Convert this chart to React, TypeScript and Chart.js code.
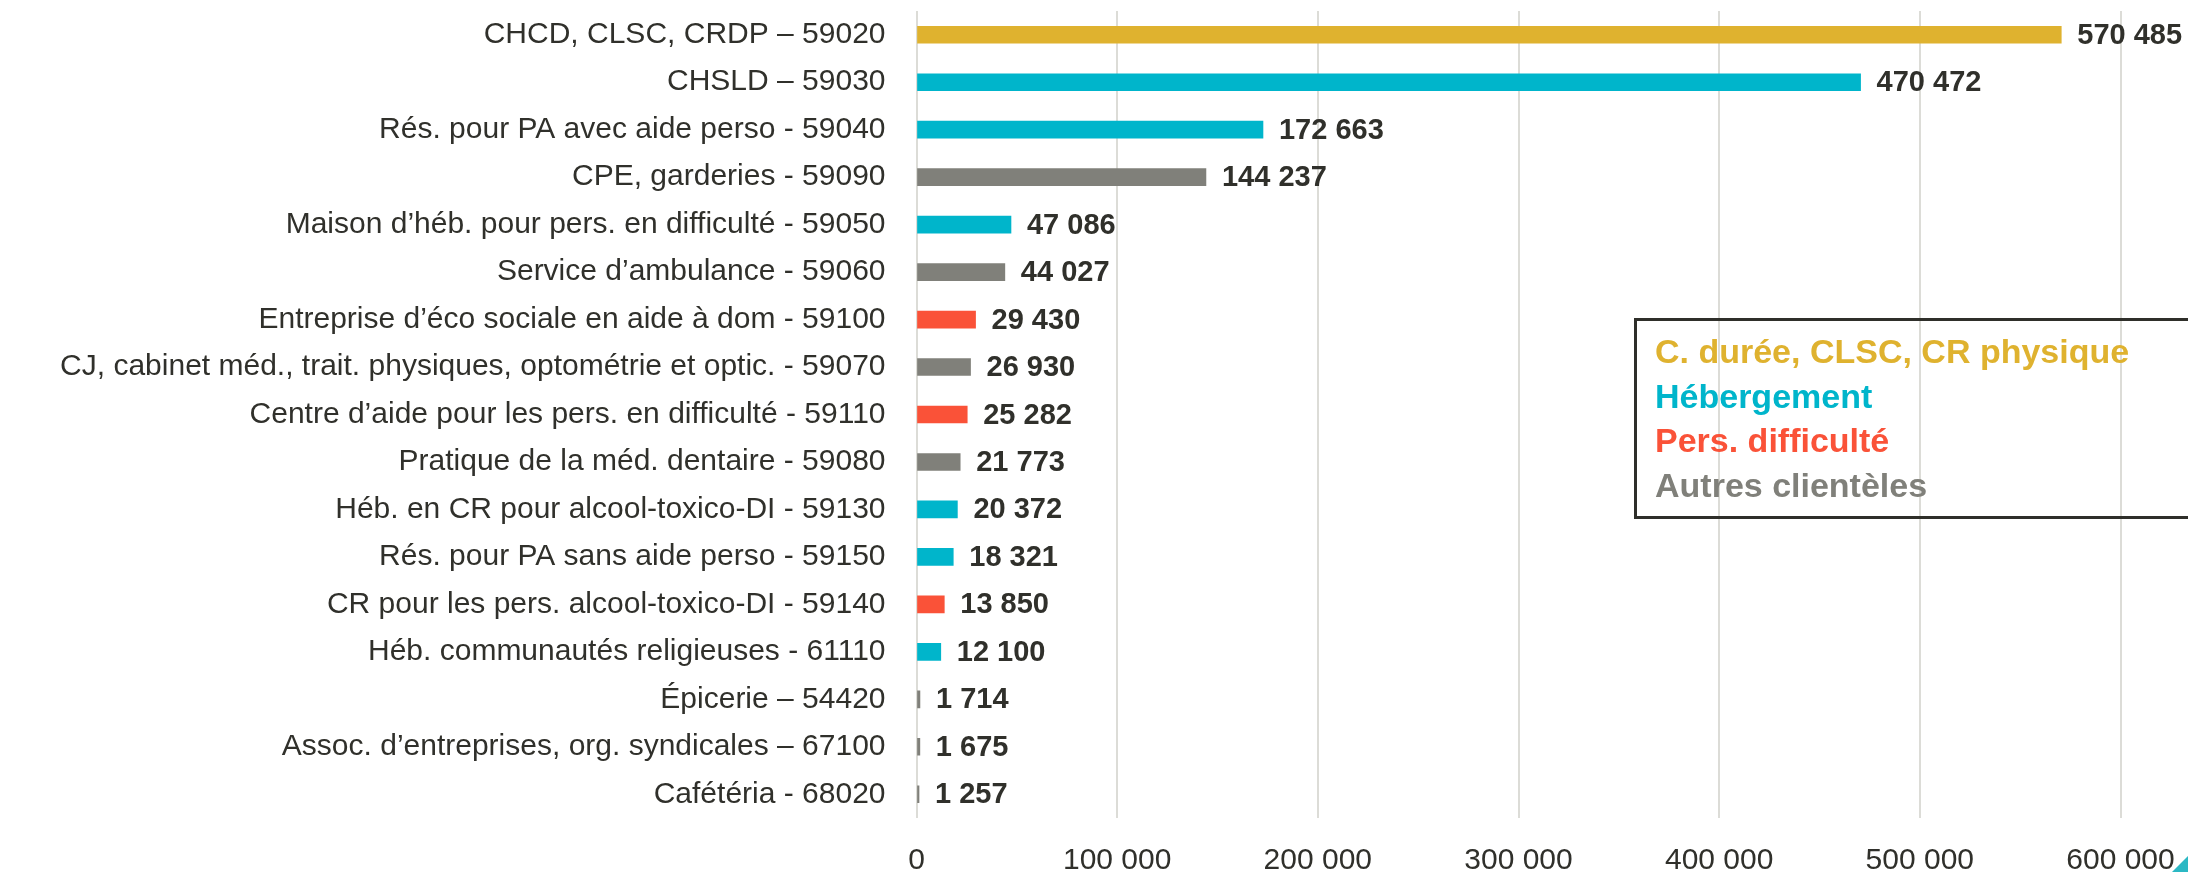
import React, { useEffect, useRef } from 'react';
import { Chart, registerables } from 'chart.js';

Chart.register(...registerables);

const categories = [
  'CHCD, CLSC, CRDP – 59020',
  'CHSLD – 59030',
  'Rés. pour PA avec aide perso - 59040',
  'CPE, garderies - 59090',
  'Maison d’héb. pour pers. en difficulté - 59050',
  'Service d’ambulance - 59060',
  'Entreprise d’éco sociale en aide à dom - 59100',
  'CJ, cabinet méd., trait. physiques, optométrie et optic. - 59070',
  'Centre d’aide pour les pers. en difficulté - 59110',
  'Pratique de la méd. dentaire - 59080',
  'Héb. en CR pour alcool-toxico-DI - 59130',
  'Rés. pour PA sans aide perso - 59150',
  'CR pour les pers. alcool-toxico-DI - 59140',
  'Héb. communautés religieuses - 61110',
  'Épicerie – 54420',
  'Assoc. d’entreprises, org. syndicales – 67100',
  'Cafétéria - 68020',
];

const values = [
  570485, 470472, 172663, 144237, 47086, 44027, 29430, 26930, 25282, 21773,
  20372, 18321, 13850, 12100, 1714, 1675, 1257,
];

// index into groupNames for each bar
const barGroups = [0, 1, 1, 3, 1, 3, 2, 3, 2, 3, 1, 1, 2, 1, 3, 3, 3];

const groupNames = [
  'C. durée, CLSC, CR physique',
  'Hébergement',
  'Pers. difficulté',
  'Autres clientèles',
];

const groupColors = ['#DFB22F', '#00B5CB', '#FA5238', '#80807A'];

const xMin = 0;
const xMax = 600000;
const xStep = 100000;

const FONT = "'Liberation Sans', Arial, sans-serif";
const TEXT = '#30302b';

const fmt = (v: number) => String(v).replace(/\B(?=(\d{3})+(?!\d))/g, ' ');

const valueLabelPlugin = {
  id: 'valueLabels',
  afterDatasetsDraw(chart: any) {
    const ctx = chart.ctx;
    const meta = chart.getDatasetMeta(0);
    ctx.save();
    ctx.font = `bold 29px ${FONT}`;
    ctx.fillStyle = TEXT;
    ctx.textAlign = 'left';
    ctx.textBaseline = 'middle';
    meta.data.forEach((bar: any, i: number) => {
      ctx.fillText(fmt(values[i]), bar.x + 16, bar.y + 1);
    });
    ctx.restore();
  },
};

const legendBoxPlugin = {
  id: 'legendBox',
  afterDraw(chart: any) {
    const ctx = chart.ctx;
    ctx.save();
    ctx.strokeStyle = '#2f2f2a';
    ctx.lineWidth = 3;
    ctx.strokeRect(1635.5, 319.5, 600, 198);
    ctx.font = `bold 34px ${FONT}`;
    ctx.textAlign = 'left';
    ctx.textBaseline = 'alphabetic';
    groupNames.forEach((name, i) => {
      ctx.fillStyle = groupColors[i];
      ctx.fillText(name, 1655, 363 + i * 44.5);
    });
    // small corner mark at bottom right
    ctx.fillStyle = '#2bb8c4';
    ctx.beginPath();
    ctx.moveTo(2188, 856);
    ctx.lineTo(2188, 872);
    ctx.lineTo(2172, 872);
    ctx.closePath();
    ctx.fill();
    ctx.restore();
  },
};

export default function App() {
  const ref = useRef<HTMLCanvasElement | null>(null);

  useEffect(() => {
    document.body.style.margin = '0';
    const canvas = ref.current;
    if (!canvas) return;
    const chart = new Chart(canvas, {
      type: 'bar',
      data: {
        labels: categories,
        datasets: [
          {
            data: values,
            backgroundColor: barGroups.map((g) => groupColors[g]),
            borderWidth: 0,
            barThickness: 17,
          },
        ],
      },
      options: {
        indexAxis: 'y',
        responsive: false,
        animation: false,
        devicePixelRatio: 1,
        layout: { padding: { top: 11, right: 67.5, left: 0, bottom: 0 } },
        plugins: {
          legend: { display: false },
          tooltip: { enabled: false },
        },
        scales: {
          x: {
            min: xMin,
            max: xMax,
            ticks: {
              stepSize: xStep,
              color: TEXT,
              font: { family: FONT, size: 30 },
              padding: 25,
              maxRotation: 0,
              callback: (v: any) => fmt(Number(v)),
            },
            grid: { color: '#dcdcd7', lineWidth: 2, drawTicks: false },
            border: { display: false },
            afterFit: (scale: any) => {
              scale.height = 54;
              scale.paddingLeft = 0;
              scale.paddingRight = 0;
            },
          },
          y: {
            ticks: {
              color: TEXT,
              font: { family: FONT, size: 30 },
              padding: 31,
              autoSkip: false,
            },
            grid: { display: false, drawTicks: false },
            border: { display: false },
            afterFit: (scale: any) => {
              scale.width = 916.5;
              scale.paddingTop = 0;
              scale.paddingBottom = 0;
            },
          },
        },
      },
      plugins: [valueLabelPlugin, legendBoxPlugin],
    });
    return () => chart.destroy();
  }, []);

  return (
    <div style={{ width: 2188, height: 872, background: '#fff' }}>
      <canvas ref={ref} width={2188} height={872} style={{ display: 'block' }} />
    </div>
  );
}
